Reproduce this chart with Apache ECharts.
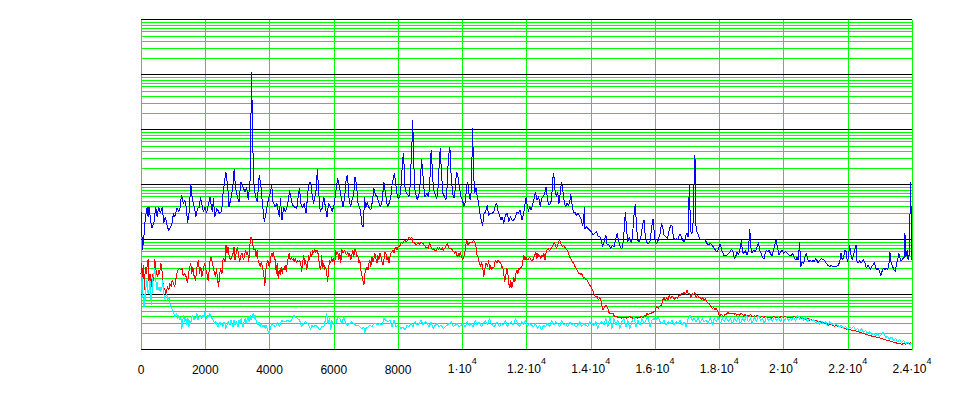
<!DOCTYPE html>
<html lang="en">
<head>
    <meta charset="UTF-8">
    <title>spectrum log plot</title>
    <script src="https://cdn.jsdelivr.net/npm/echarts@6/dist/echarts.min.js"></script>
    <style>
        body{margin:0;background:#fff;}
        #mybox svg path{shape-rendering:crispEdges;}
    </style>
</head>
<body>
<div id="mybox" style="height:395px;width:961px;"></div>
<script>
    // x ticks and their labels (^ marks the exponent)
    var xTicks = [0, 2000, 4000, 6000, 8000, 10000, 12000, 14000, 16000, 18000, 20000, 22000, 24000];
    var xTickLabels = ['0', '2000', '4000', '6000', '8000', '1·10^4', '1.2·10^4', '1.4·10^4',
        '1.6·10^4', '1.8·10^4', '2·10^4', '2.2·10^4', '2.4·10^4'];
    // log axis decades (black lines), minor lines 2..9 in between (green)
    var yDecades = [1, 10, 100, 1000, 10000, 100000, 1000000];
    var yMinorSteps = [2, 3, 4, 5, 6, 7, 8, 9];

    // blue trace [x, value]
    var bluePts = [
        [0,320],[20,220],[40,64],[80,97],[130,230],[190,390],[220,260],[250,390],[320,180],[340,160],[400,200],[460,390],[500,260],[550,390],[600,300],[660,390],[710,200],[760,260],[820,170],[865,145],[925,170],[970,200],[1010,300],[1050,260],[1120,370],[1180,320],[1220,390],[1260,640],[1320,450],[1360,520],[1410,390],[1450,200],[1500,320],[1550,1040],[1600,520],[1660,390],[1710,260],[1760,370],[1820,390],[1850,600],[1940,320],[1990,390],[2040,300],[2150,600],[2190,390],[2230,320],[2250,560],[2300,260],[2360,370],[2440,300],[2510,320],[2560,740],[2640,1700],[2700,900],[2740,390],[2810,600],[2860,900],[2900,1950],[2940,900],[2990,640],[3050,480],[3110,1100],[3190,850],[3240,740],[3290,900],[3340,520],[3400,1300],[3440,110000],[3460,25000],[3480,5000],[3520,900],[3570,600],[3620,480],[3680,1500],[3730,970],[3790,390],[3840,210],[3900,320],[3950,480],[4000,640],
        [4020,690],[4070,970],[4110,480],[4180,390],[4230,450],[4280,300],[4310,260],[4340,560],[4390,225],[4440,390],[4490,320],[4540,370],[4590,520],[4625,790],[4670,560],[4720,420],[4780,390],[4850,370],[4880,520],[4930,850],[4980,450],[5030,370],[5080,450],[5140,300],[5200,790],[5240,1040],[5280,1120],[5320,690],[5370,450],[5410,600],[5450,790],[5490,1950],[5530,740],[5580,320],[5640,370],[5690,600],[5740,390],[5790,260],[5840,450],[5900,390],[5950,320],[6020,450],[6070,790],[6125,1290],[6180,910],[6240,560],[6290,390],[6340,600],[6390,1290],[6430,1480],[6470,600],[6520,390],[6570,520],[6620,640],[6660,1380],[6710,970],[6760,420],[6810,390],[6850,260],[6880,180],[6920,170],[6960,600],[6990,370],[7040,480],[7090,390],[7150,340],[7200,480],[7250,850],[7300,640],[7350,600],[7410,450],[7460,390],[7510,520],[7560,1120],[7610,690],[7670,390],[7720,450],[7770,560],[7820,1040],[7885,1580],[7930,1040],[7980,600],
        [8030,560],[8080,690],[8130,2100],[8165,3700],[8200,1830],[8220,850],[8260,690],[8310,640],[8340,600],[8370,790],[8410,2770],[8440,6400],[8450,15000],[8480,6400],[8510,910],[8550,690],[8600,520],[8660,690],[8700,1200],[8730,2850],[8760,2100],[8800,910],[8840,600],[8900,690],[8950,600],[8990,1040],[9020,3400],[9040,4300],[9070,1600],[9110,790],[9160,640],[9210,560],[9250,910],[9290,3000],[9320,4700],[9350,1600],[9400,690],[9450,600],[9490,520],[9530,910],[9570,3200],[9615,4800],[9650,1600],[9700,690],[9740,560],[9780,790],[9820,1700],[9860,1480],[9910,910],[9960,600],[10010,520],[10050,390],[10090,480],[10140,910],[10170,1120],[10220,600],[10260,520],[10290,1040],[10320,10500],[10350,2200],[10380,690],[10430,850],[10470,600],[10510,450],[10550,300],[10590,225],[10635,180],[10680,300],[10730,320],[10780,420],[10820,275],[10870,300],[10930,300],[10980,320],[11020,390],[11070,460],[11110,340],[11160,275],[11200,225],[11250,260],[11290,196],[11340,275],[11400,305],[11450,210],[11500,260],[11550,225],[11600,225],[11660,260],[11700,320],[11750,300],[11800,340],[11860,225],[11910,300],[11950,420],[11990,585],[12030,390],[12070,320],
        [12090,400],[12150,340],[12200,450],[12250,600],[12280,740],[12320,520],[12380,600],[12430,390],[12470,560],[12520,600],[12570,690],[12610,910],[12650,560],[12690,420],[12740,450],[12780,520],[12820,1290],[12850,1580],[12880,850],[12930,600],[12970,740],[13010,450],[13050,690],[13090,1120],[13130,790],[13180,450],[13220,390],[13260,450],[13300,420],[13340,450],[13380,670],[13430,390],[13470,300],[13510,320],[13550,275],[13600,300],[13660,260],[13710,225],[13740,180],[13780,210],[13800,390],[13820,158],[13860,170],[13920,158],[13970,148],[14020,138],[14070,120],[14120,129],[14180,138],[14230,115],[14280,112],[14330,98],[14360,75],[14410,90],[14470,120],[14510,79],[14560,82],[14620,68],[14670,79],[14720,73],[14770,98],[14820,129],[14860,98],[14920,73],[14970,68],[15020,98],[15060,225],[15080,320],[15110,170],[15150,90],[15200,112],[15240,90],[15280,90],[15320,170],[15350,300],[15385,440],[15420,196],[15460,98],[15510,90],[15560,112],[15620,196],[15660,230],[15690,129],[15740,90],[15790,84],[15840,90],[15900,170],[15940,240],[15970,148],[16010,90],[16050,84],[16100,98],
        [16160,129],[16200,196],[16240,170],[16280,120],[16330,112],[16390,104],[16440,148],[16490,180],[16530,175],[16570,112],[16610,98],[16660,104],[16700,98],[16740,112],[16780,126],[16820,112],[16860,98],[16910,90],[16950,112],[16990,133],[17030,112],[17050,390],[17070,1040],[17090,340],[17110,138],[17150,129],[17180,170],[17210,690],[17230,3400],[17250,2770],[17260,450],[17280,148],[17310,138],[17350,120],[17410,98],[17460,100],[17510,98],[17560,100],[17620,84],[17670,79],[17720,87],[17770,79],[17820,73],[17880,64],[17930,60],[17980,68],[18030,84],[18080,64],[18140,52],[18190,50],[18240,52],[18290,56],[18340,60],[18380,68],[18430,58],[18470,45],[18510,48],[18550,60],[18600,52],[18660,73],[18690,98],[18720,60],[18760,56],[18810,64],[18860,52],[18910,64],[18950,158],[18980,73],[19020,56],[19070,64],[19120,60],[19180,73],[19220,90],[19260,64],[19300,56],[19340,48],[19390,44],[19430,56],[19470,64],[19510,60],[19550,64],[19590,56],[19640,50],[19680,60],[19730,79],[19770,98],[19810,73],[19860,52],[19910,60],[19960,64],[20010,56],[20060,60],[20120,56],[20170,52],[20240,50],
        [20280,56],[20330,48],[20380,42],[20420,48],[20460,42],[20500,90],[20540,32],[20580,39],[20630,37],[20670,48],[20710,56],[20750,45],[20790,39],[20830,42],[20880,39],[20920,42],[20960,39],[21000,45],[21040,42],[21080,37],[21120,42],[21180,45],[21230,43],[21280,42],[21330,37],[21380,34],[21440,32],[21490,34],[21540,32],[21590,33],[21640,32],[21700,34],[21750,39],[21790,56],[21830,42],[21870,48],[21910,64],[21950,60],[21990,39],[22020,48],[22060,79],[22100,52],[22140,42],[22180,52],[22220,64],[22260,79],[22290,39],[22330,37],[22370,42],[22410,37],[22450,39],[22490,43],[22540,37],[22580,30],[22620,34],[22660,32],[22700,28],[22740,32],[22780,34],[22830,39],[22870,30],[22910,28],[22950,30],[22990,26],[23030,22],[23080,28],[23120,30],[23160,28],[23200,30],[23240,28],[23280,34],[23310,60],[23350,37],[23400,32],[23440,28],[23480,26],[23510,34],[23550,42],[23590,56],[23640,42],[23680,42],[23720,45],[23760,48],[23780,133],[23810,48],[23850,64],[23880,42],[23920,56],[23940,350],[23960,1120],[23990,48],[24000,42]
    ];

    // red trace [x, value]
    var redPts = [
        [0,24],[20,37],[50,21],[80,34],[105,12],[135,32],[165,24],[200,37],[230,45],[250,17],[280,24],[320,14],[360,24],[395,18],[430,45],[460,30],[490,24],[520,21],[550,28],[580,24],[615,37],[645,32],[675,18],[710,12],[740,13],[770,10.4],[800,12],[830,14],[865,12],[895,16],[935,14],[970,18],[1010,16],[1050,14],[1080,18],[1115,24],[1155,28],[1200,30],[1240,28],[1280,30],[1310,22],[1365,24],[1405,21],[1450,16],[1480,24],[1520,32],[1550,37],[1580,24],[1615,32],[1655,21],[1700,18],[1730,28],[1760,37],[1790,42],[1820,24],[1865,32],[1895,21],[1940,28],[1980,37],[2020,28],[2050,24],[2090,18],[2125,28],[2155,45],[2190,48],[2220,37],[2250,32],[2290,24],[2320,21],[2350,30],[2385,18],[2415,14],[2450,24],[2480,30],[2520,24],[2550,42],[2580,45],[2615,39],[2645,79],[2680,56],[2710,73],[2740,52],[2780,42],[2820,48],[2865,56],[2895,73],[2925,42],[2960,56],[3000,73],[3030,56],[3070,39],[3105,52],[3145,56],[3190,42],[3220,48],[3250,64],[3290,52],[3320,60],[3355,39],[3385,73],[3415,112],[3450,104],[3490,73],[3520,64],[3550,68],[3585,48],[3615,64],[3645,42],[3680,37],[3710,32],[3740,39],[3780,32],[3820,24],[3855,14],[3885,28],[3920,37],[3950,42],[3990,32],
        [4030,42],[4060,56],[4085,48],[4115,60],[4145,48],[4180,42],[4210,24],[4240,37],[4270,19.5],[4300,28],[4335,22.4],[4365,32],[4395,24],[4425,30],[4460,28],[4490,34],[4520,26],[4550,37],[4585,48],[4615,56],[4645,42],[4680,48],[4710,42],[4740,45],[4770,39],[4800,45],[4845,37],[4875,42],[4905,39],[4935,42],[4970,37],[5000,26],[5030,37],[5065,52],[5095,34],[5125,42],[5155,28],[5190,37],[5220,52],[5250,42],[5280,60],[5315,48],[5345,64],[5375,56],[5405,68],[5435,56],[5470,64],[5500,60],[5530,48],[5560,32],[5595,28],[5625,52],[5655,30],[5690,37],[5720,28],[5750,32],[5780,24],[5810,17],[5845,32],[5875,42],[5905,37],[5935,48],[5970,39],[6000,45],[6030,34],[6060,64],[6095,52],[6125,60],[6155,42],[6190,56],[6220,37],[6250,68],[6280,56],[6310,60],[6345,64],[6375,56],[6405,52],[6435,60],[6470,48],[6500,56],[6530,42],[6560,52],[6595,64],[6625,48],[6655,68],[6690,60],[6720,48],[6750,52],[6780,37],[6810,42],[6845,28],[6875,22.4],[6905,18.2],[6940,14.8],[6970,24],[7000,28],[7030,32],[7065,28],[7095,37],[7125,42],[7155,32],[7190,48],[7220,39],[7250,45],[7280,56],[7315,45],[7345,37],[7375,52],[7405,42],[7440,56],[7470,48],[7500,39],[7530,34],[7565,45],[7595,60],[7625,56],[7655,42],[7690,48],[7720,37],[7750,48],[7780,56],[7815,60],[7845,64],[7875,56],[7905,68],[7940,73],[7970,64],[8000,73],[8040,75],
        [8070,79],[8100,90],[8135,84],[8170,90],[8200,98],[8260,90],[8320,104],[8355,112],[8390,104],[8430,109],[8470,87],[8510,90],[8550,79],[8590,82],[8630,87],[8670,82],[8710,90],[8790,84],[8855,73],[8920,73],[8950,68],[8980,90],[9010,79],[9070,64],[9105,68],[9135,64],[9200,64],[9230,71],[9260,64],[9290,71],[9320,64],[9350,66],[9380,73],[9410,62],[9440,68],[9480,73],[9540,84],[9570,73],[9600,68],[9660,68],[9700,64],[9735,60],[9760,56],[9800,60],[9850,48],[9880,56],[9910,48],[9940,60],[9980,48],[10010,42],[10070,52],[10100,73],[10140,98],[10170,79],[10230,87],[10260,90],[10320,90],[10350,98],[10390,90],[10420,79],[10460,52],[10490,48],[10530,37],[10570,32],[10600,39],[10640,30],[10670,21],[10700,28],[10740,37],[10790,32],[10820,42],[10855,28],[10885,34],[10915,28],[10950,32],[10980,30],[11010,37],[11040,42],[11080,37],[11110,42],[11160,39],[11200,37],[11230,30],[11260,32],[11290,24],[11320,17],[11350,21],[11390,30],[11420,24],[11450,15.8],[11480,12.9],[11510,18.2],[11540,12.9],[11575,15.8],[11600,21],[11640,17],[11670,24],[11700,28],[11730,24],[11760,30],[11790,28],[11820,32],[11850,30],[11890,42],[11920,52],[11950,42],[11980,48],[12010,42],[12060,44],
        [12094,48],[12140,42],[12180,41],[12220,45],[12260,52],[12290,60],[12320,45],[12355,56],[12385,48],[12415,52],[12450,45],[12480,52],[12510,48],[12540,56],[12575,42],[12605,56],[12635,64],[12680,68],[12720,62],[12760,68],[12800,73],[12845,84],[12875,87],[12905,79],[12935,68],[12970,79],[13000,90],[13030,98],[13060,87],[13095,79],[13125,73],[13155,79],[13190,73],[13220,68],[13250,66],[13280,60],[13310,56],[13345,48],[13375,45],[13405,42],[13435,39],[13470,37],[13500,33],[13530,31],[13560,28.5],[13595,25.8],[13625,24],[13655,24.7],[13690,22.4],[13720,24],[13750,21],[13780,19.5],[13810,21],[13845,18.2],[13875,18.8],[13905,17],[13940,15.8],[13970,14.8],[14000,13.8],[14030,12.9],[14060,12],[14095,10.4],[14125,9.7],[14155,9.0],[14190,9.4],[14220,8.4],[14250,8.1],[14280,8.8],[14315,7.9],[14345,6.4],[14375,5.3],[14405,5.6],[14440,6.0],[14470,6.4],[14500,6.1],[14530,5.6],[14560,4.8],[14595,4.5],[14625,4.6],[14655,4.4],[14690,4.6],[14720,4.2],[14750,4.0],[14780,3.9],[14810,4.0],[14845,3.8],[14875,3.9],[14905,3.8],[14935,3.9],[14970,3.7],[15000,3.8],[15030,3.7],[15060,3.8],[15090,3.8],[15125,3.7],[15155,3.8],[15185,3.9],[15220,4.0],[15250,3.8],[15280,3.9],[15310,3.7],[15345,3.8],[15375,3.7],[15405,3.9],[15435,3.8],[15470,3.7],[15500,3.9],[15530,3.8],[15560,4.0],[15595,3.9],[15625,3.8],[15655,4.0],[15690,4.2],[15720,4.0],[15750,4.5],[15780,4.2],[15815,4.4],[15845,4.6],[15875,4.5],[15905,4.8],[15940,4.6],[15970,5.0],[16000,4.8],[16030,5.6],[16060,6.0],[16100,5.6],[16135,6.1],
        [16200,6.4],[16240,7.9],[16280,8.8],[16320,7.7],[16365,8.8],[16405,8.1],[16450,9.7],[16490,8.4],[16530,9.4],[16570,8.8],[16615,8.1],[16655,9.0],[16700,8.4],[16740,9.7],[16780,9.4],[16820,10.7],[16865,10.2],[16905,11.2],[16950,9.7],[16990,12],[17030,10.7],[17070,10.4],[17115,8.8],[17155,10.4],[17200,9.7],[17240,11.2],[17280,8.8],[17320,9.7],[17365,8.8],[17405,9.0],[17450,8.1],[17490,8.8],[17530,7.7],[17570,8.4],[17615,7.4],[17655,6.9],[17700,6.7],[17740,6.1],[17780,5.6],[17820,5.8],[17865,5.3],[17905,5.6],[17950,5.0],[17980,4.5],[18010,4.0],[18050,4.4],[18095,4.2],[18135,4.0],[18180,4.4],[18220,4.2],[18260,4.8],[18300,4.5],[18345,4.6],[18385,4.4],[18430,4.6],[18470,4.4],[18510,4.5],[18550,4.2],[18595,4.4],[18635,4.2],[18680,4.5],[18720,4.4],[18760,4.0],[18800,4.4],[18845,4.0],[18885,4.2],[18925,4.0],[18970,4.4],[19010,4.0],[19050,3.9],[19095,4.2],[19135,3.9],[19180,4.2],[19220,4.0],[19260,3.8],[19300,3.9],[19345,4.0],[19385,3.8],[19430,4.0],[19470,3.8],[19510,3.9],[19550,3.7],[19595,3.9],[19635,3.7],[19680,3.9],[19720,4.0],[19760,3.8],[19800,3.9],[19845,3.7],[19885,3.8],[19925,4.0],[19970,3.8],[20010,3.9],[20050,4.0],[20095,3.8],[20140,3.9],[20180,3.8],
        [20240,3.9],[20290,3.8],[20340,4.0],[20390,3.8],[20450,3.9],[20500,3.7],[20550,3.8],[20600,3.6],[20640,3.7],[20700,3.5],[20750,3.7],[20810,3.4],[20860,3.5],[20920,3.3],[20970,3.4],[21020,3.4],[21080,3.2],[21130,3.3],[21180,3.05],[21240,3.1],[21290,2.97],[21340,3.0],[21400,2.77],[21450,2.9],[21500,2.84],[21550,2.7],[21600,2.66],[21650,2.7],[21700,2.58],[21760,2.6],[21810,2.51],[21860,2.45],[21910,2.41],[21970,2.35],[22020,2.31],[22070,2.3],[22120,2.25],[22170,2.2],[22230,2.18],[22280,2.15],[22330,2.10],[22380,2.05],[22440,2.01],[22490,1.95],[22540,1.90],[22590,1.86],[22640,1.82],[22700,1.8],[22750,1.75],[22800,1.72],[22850,1.70],[22900,1.68],[22960,1.65],[23010,1.6],[23060,1.58],[23110,1.55],[23170,1.52],[23220,1.47],[23270,1.44],[23320,1.42],[23380,1.38],[23430,1.35],[23480,1.32],[23530,1.31],[23590,1.29],[23640,1.27],[23690,1.25],[23740,1.28],[23800,1.24],[23850,1.3],[23900,1.26],[23950,1.32],[24000,1.28]
    ];

    // cyan trace [x, value]
    var cyanPts = [
        [0,18],[10,12],[40,21],[60,9],[94,6],[115,10.4],[135,7.9],[155,13.8],[185,18],[220,10.4],[250,12],[280,18],[300,10.4],[320,6.4],[355,13.8],[375,21],[405,24],[426,30],[460,21],[480,12],[510,17],[530,12],[560,13.8],[595,11.2],[615,13.8],[645,12],[675,18],[710,10.4],[740,8.4],[770,9],[800,10.4],[830,7.9],[865,9],[895,6.9],[925,6],[960,5.6],[990,4.8],[1020,4.5],[1050,3.9],[1085,4.2],[1115,4.5],[1145,3.66],[1175,4.2],[1210,3.4],[1240,3.9],[1270,2.41],[1300,3.4],[1330,4.2],[1365,3.2],[1395,3.9],[1425,2.77],[1460,3.66],[1490,2.58],[1520,3.4],[1550,2.97],[1580,3.9],[1615,4.2],[1645,3.4],[1675,3.9],[1710,3.66],[1740,4.5],[1770,3.4],[1800,3.9],[1835,4.2],[1865,3.9],[1895,3.66],[1925,4.2],[1960,3.9],[1990,4.8],[2020,3.9],[2050,3.66],[2085,4.2],[2115,3.9],[2145,4.5],[2175,3.9],[2210,3.66],[2240,3.4],[2270,3.2],[2300,2.97],[2330,3.2],[2365,2.77],[2395,2.58],[2425,2.97],[2460,3.2],[2490,2.77],[2520,2.97],[2550,2.58],[2580,3.2],[2615,2.97],[2645,2.41],[2675,2.77],[2710,3.2],[2740,2.97],[2770,2.77],[2800,3.4],[2830,2.97],[2865,2.58],[2895,3.4],[2925,2.77],[2960,3.2],[2990,2.97],[3020,2.58],[3050,3.4],[3080,2.97],[3115,3.66],[3145,2.97],[3175,2.58],[3210,3.2],[3240,3.66],[3270,2.97],[3300,3.4],[3335,3.9],[3365,3.2],[3395,4.2],[3430,3.4],[3460,3.9],[3490,4.5],[3520,3.66],[3550,4.2],[3585,3.4],[3615,2.97],[3645,2.77],[3675,3.2],[3710,2.58],[3740,2.97],[3770,2.77],[3800,2.58],[3835,2.77],[3865,2.41],[3895,2.77],[3925,2.41],[3960,2.10],[3990,1.95],
        [4063,2.97],[4125,2.77],[4188,2.58],[4250,3.2],[4313,2.58],[4375,3.4],[4438,3.2],[4500,3.2],[4563,3.4],[4625,3.2],[4688,3.4],[4750,4.2],[4813,3.9],[4875,3.66],[4938,3.4],[5000,2.58],[5063,2.97],[5125,3.2],[5188,2.97],[5250,2.58],[5282,2.25],[5313,2.77],[5375,2.58],[5438,2.77],[5500,2.58],[5563,2.25],[5625,2.58],[5688,2.58],[5750,3.66],[5782,4.5],[5813,2.97],[5875,3.66],[5907,2.25],[5938,3.4],[6000,2.77],[6063,2.97],[6125,3.9],[6188,3.66],[6250,2.97],[6313,3.9],[6375,2.97],[6438,2.77],[6500,2.97],[6563,3.2],[6625,2.97],[6688,2.77],[6750,2.77],[6813,2.58],[6875,2.41],[6938,2.58],[6969,2.01],[7000,2.41],[7063,2.58],[7125,2.77],[7188,2.58],[7250,2.97],[7313,2.97],[7375,2.77],[7438,2.97],[7500,2.77],[7563,3.66],[7625,3.4],[7688,3.2],[7750,3.4],[7813,2.58],[7875,3.4],[7938,2.58],[8000,2.77],[8063,2.58],
        [8094,2.41],[8156,2.58],[8219,2.25],[8281,2.77],[8344,2.58],[8406,2.97],[8469,2.58],[8531,3.2],[8594,2.77],[8656,2.97],[8719,3.4],[8781,2.77],[8844,3.2],[8906,2.97],[8969,2.58],[9031,3.2],[9094,2.41],[9156,2.77],[9219,2.97],[9281,2.58],[9344,2.77],[9406,2.41],[9469,2.58],[9531,2.77],[9594,2.97],[9656,3.2],[9719,2.58],[9781,2.77],[9844,2.97],[9906,2.58],[9969,2.77],[10031,2.97],[10094,2.58],[10156,3.2],[10219,2.77],[10281,2.97],[10344,2.58],[10406,3.4],[10469,2.77],[10531,3.2],[10594,2.58],[10656,2.97],[10719,3.4],[10781,2.77],[10844,3.66],[10906,2.97],[10969,2.58],[11031,2.77],[11094,3.2],[11156,2.58],[11219,2.97],[11281,2.77],[11344,3.4],[11406,2.58],[11469,2.97],[11531,3.2],[11594,2.77],[11656,3.66],[11719,2.97],[11781,2.58],[11844,3.2],[11906,2.77],[11969,3.4],[12031,2.58],[12094,2.97],
        [12156,2.77],[12219,2.58],[12281,2.97],[12344,2.41],[12406,2.77],[12469,2.25],[12531,2.77],[12594,2.58],[12656,2.97],[12719,2.58],[12781,3.4],[12844,2.77],[12906,3.2],[12969,2.97],[13031,2.58],[13094,3.4],[13156,2.77],[13219,2.97],[13281,2.58],[13344,3.2],[13406,2.77],[13469,2.97],[13531,2.58],[13594,2.77],[13656,3.2],[13719,2.58],[13781,2.97],[13844,2.77],[13906,2.58],[13969,3.2],[14031,2.97],[14094,2.77],[14156,3.2],[14219,2.41],[14281,2.97],[14344,3.2],[14406,2.77],[14469,3.66],[14531,2.58],[14594,3.9],[14656,2.41],[14719,3.66],[14781,2.77],[14844,3.4],[14906,2.41],[14969,3.2],[15031,3.66],[15094,2.58],[15156,3.4],[15219,2.41],[15281,3.2],[15344,3.9],[15406,2.58],[15469,3.4],[15531,2.77],[15594,3.66],[15656,2.97],[15719,3.4],[15781,3.9],[15844,2.58],[15906,3.4],[15969,3.66],[16031,3.4],[16094,3.9],[16156,3.2],
        [16219,2.97],[16281,3.4],[16344,2.77],[16406,3.2],[16469,2.97],[16531,3.4],[16594,2.77],[16656,3.2],[16719,2.97],[16781,3.4],[16844,2.77],[16906,3.2],[16969,2.58],[17031,3.66],[17094,4.2],[17156,3.4],[17219,3.66],[17281,3.2],[17344,3.9],[17406,2.97],[17469,3.66],[17531,3.2],[17594,3.4],[17656,2.97],[17719,3.9],[17781,2.77],[17844,3.66],[17906,3.2],[17969,3.9],[18031,2.97],[18094,3.66],[18156,3.2],[18219,3.9],[18281,3.2],[18344,3.66],[18406,2.97],[18469,3.66],[18531,3.2],[18594,3.9],[18656,2.97],[18719,3.66],[18781,3.2],[18844,4.2],[18906,3.2],[18969,3.66],[19031,2.97],[19094,3.9],[19156,3.2],[19219,4.2],[19281,3.4],[19344,3.66],[19406,2.97],[19469,3.9],[19531,3.4],[19594,3.66],[19656,3.2],[19719,3.9],[19781,3.4],[19844,3.66],[19906,3.2],[19969,3.9],[20031,3.4],[20094,3.9],[20156,3.4],[20219,3.66],
        [20252,3.4],[20315,3.9],[20377,3.2],[20439,4.2],[20501,3.5],[20564,3.9],[20626,3.4],[20688,3.8],[20750,3.2],[20813,3.66],[20875,3.3],[20937,3.5],[20999,2.97],[21062,3.4],[21124,2.77],[21186,3.3],[21249,2.97],[21311,3.2],[21373,2.66],[21436,3.2],[21498,2.77],[21560,2.97],[21622,2.9],[21685,2.77],[21747,2.58],[21809,2.77],[21872,2.41],[21934,2.66],[21996,2.31],[22058,2.58],[22121,2.41],[22183,2.66],[22245,2.25],[22307,2.41],[22370,2.10],[22432,2.41],[22494,2.01],[22557,2.25],[22619,1.95],[22681,2.10],[22743,1.82],[22806,2.01],[22868,1.75],[22930,1.95],[22992,1.70],[23055,1.9],[23117,2.10],[23179,1.65],[23241,1.75],[23304,1.52],[23366,1.70],[23428,1.44],[23490,1.58],[23553,1.38],[23615,1.52],[23677,1.32],[23739,1.48],[23802,1.25],[23864,1.38],[23926,1.2],[23989,1.32]
    ];

    // horizontal grid lines: green minor lines, black decade lines
    var gridLines = [];
    for (var d = 0; d < yDecades.length - 1; d++) {
        for (var m = 0; m < yMinorSteps.length; m++) {
            gridLines.push({yAxis: yDecades[d] * yMinorSteps[m], lineStyle: {color: '#00ff00'}});
        }
    }
    for (var k = 0; k < yDecades.length; k++) {
        gridLines.push({yAxis: yDecades[k], lineStyle: {color: '#000000'}});
    }

    var font = 'Liberation Sans, Arial, sans-serif';
    var mychart = echarts.init(document.getElementById('mybox'), null, {renderer: 'svg'});
    mychart.setOption({
        animation: false,
        backgroundColor: '#ffffff',
        grid: {left: 141, right: 49, top: 19.5, bottom: 45.5},
        xAxis: {
            type: 'value',
            min: 0,
            max: 24000,
            interval: 2000,
            axisLine: {show: false},
            axisTick: {show: false},
            splitLine: {show: true, lineStyle: {color: '#00ff00', width: 1}},
            axisLabel: {
                margin: 11,
                color: '#000',
                fontFamily: font,
                formatter: function (v) {
                    var i = xTicks.indexOf(v);
                    var s = i >= 0 ? xTickLabels[i] : '';
                    var p = s.split('^');
                    if (p.length > 1) return '{m|' + p[0] + '}{s|' + p[1] + '}';
                    return '{p|' + s + '}';
                },
                rich: {
                    p: {fontSize: 12, fontFamily: font, color: '#000', lineHeight: 14, padding: [5, 0, 0, 0]},
                    m: {fontSize: 12, fontFamily: font, color: '#000', lineHeight: 14, verticalAlign: 'bottom'},
                    s: {fontSize: 9, fontFamily: font, color: '#000', lineHeight: 10, padding: [0, 0, 9, 0], verticalAlign: 'bottom'}
                }
            }
        },
        yAxis: {
            type: 'log',
            logBase: 10,
            min: 1,
            max: 1000000,
            axisLine: {show: false},
            axisTick: {show: false},
            axisLabel: {show: false},
            splitLine: {show: false}
        },
        series: [{
            name: 'grid',
            type: 'line',
            data: [],
            z: 1,
            markLine: {
                silent: true,
                symbol: ['none', 'none'],
                label: {show: false},
                lineStyle: {type: 'solid', width: 1},
                data: gridLines
            }
        }, {
            name: 'blue',
            type: 'line',
            z: 10,
            showSymbol: false,
            data: bluePts,
            lineStyle: {color: '#0000ff', width: 1},
            itemStyle: {color: '#0000ff'}
        }, {
            name: 'red',
            type: 'line',
            z: 11,
            showSymbol: false,
            data: redPts,
            lineStyle: {color: '#ff0000', width: 1},
            itemStyle: {color: '#ff0000'}
        }, {
            name: 'cyan',
            type: 'line',
            z: 12,
            showSymbol: false,
            data: cyanPts,
            lineStyle: {color: '#00ffff', width: 1},
            itemStyle: {color: '#00ffff'}
        }]
    });
</script>
</body>
</html>
